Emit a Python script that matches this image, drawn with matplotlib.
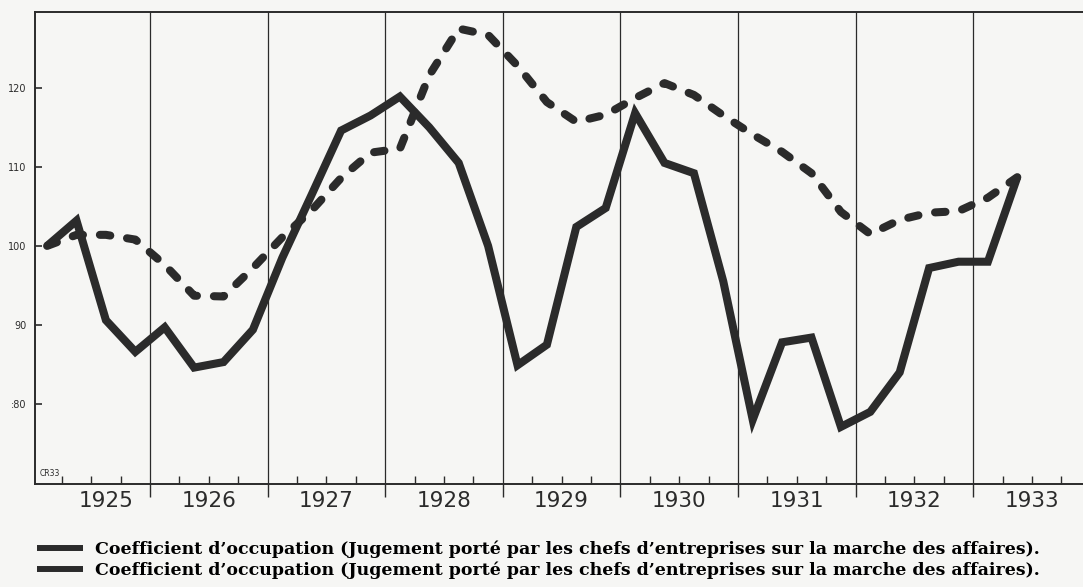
import matplotlib
matplotlib.use("Agg")
import matplotlib.pyplot as plt
from matplotlib.lines import Line2D
from matplotlib.transforms import blended_transform_factory
import numpy as np

# ---- data (quarterly, 1925 Q1 .. 1933 Q2) ----
start_year = 1925
solid_values = [100.0, 103.2, 90.6, 86.6, 89.7, 84.6, 85.3, 89.4,
                98.5, 106.5, 114.6, 116.5, 118.9, 115.0, 110.5, 100.0,
                84.9, 87.5, 102.4, 104.8, 116.8, 110.5, 109.2, 95.5,
                78.0, 87.8, 88.4, 77.1, 79.0, 84.0, 97.2, 98.0,
                98.0, 108.7]
dashed_values = [100.0, 101.4, 101.4, 100.8, 97.6, 93.7, 93.6, 97.2,
                 101.1, 104.5, 108.6, 111.8, 112.3, 121.6, 127.5, 126.7,
                 122.8, 118.2, 115.7, 116.6, 118.7, 120.6, 119.1, 116.5,
                 114.1, 111.9, 109.2, 104.3, 101.5, 103.3, 104.2, 104.4,
                 106.1, 108.7]
years = [1925, 1926, 1927, 1928, 1929, 1930, 1931, 1932, 1933]
y_ticks = [80, 90, 100, 110, 120]
y_ticklabels = [":80", "90", "100", "110", "120"]
legend_labels = [
    "Coefficient d\u2019occupation (Jugement port\u00e9 par les chefs d\u2019entreprises sur la marche des affaires).",
    "Coefficient d\u2019occupation (Jugement port\u00e9 par les chefs d\u2019entreprises sur la marche des affaires).",
]

ink = "#2b2b2b"
paper = "#f6f6f4"

W, H = 1083, 587
fig = plt.figure(figsize=(W / 100, H / 100), dpi=100, facecolor=paper)
ax = fig.add_axes([35 / W, 1 - 484 / H, (W - 35) / W, (484 - 12) / H])
ax.set_facecolor(paper)

xq = start_year + 0.125 + 0.25 * np.arange(len(solid_values))

ax.plot(xq, dashed_values, color=ink, lw=5.8, dashes=(1.3, 2.1),
        dash_capstyle="round", solid_joinstyle="round", zorder=3)
ax.plot(xq, solid_values, color=ink, lw=5.8, solid_joinstyle="miter",
        solid_capstyle="butt", zorder=4)

ax.set_xlim(1925.022, 1925 + (W - 32.4) / 117.6)
ax.set_ylim(69.87, 129.6)

# year boundaries as grid + outward major ticks
ax.set_xticks(years[1:])
ax.set_xticklabels([])
ax.set_xticks([y + f for y in years for f in (0.25, 0.5, 0.75)], minor=True)
ax.tick_params(axis="x", which="major", direction="out", length=9.5,
               width=1.0, color=ink)
ax.tick_params(axis="x", which="minor", direction="in", length=6,
               width=1.0, color=ink)
ax.grid(axis="x", which="major", color=ink, lw=0.9)

ax.set_yticks(y_ticks)
ax.set_yticklabels(y_ticklabels, fontsize=7, color=ink)
ax.tick_params(axis="y", direction="in", length=5, width=1.2, color=ink, pad=6)

for s in ("left", "top", "bottom"):
    ax.spines[s].set_color(ink)
    ax.spines[s].set_linewidth(1.4)
ax.spines["right"].set_visible(False)

tr = blended_transform_factory(ax.transData, ax.transAxes)
for yr in years:
    xc = yr + (0.63 if yr == 1925 else 0.5)
    ax.text(xc, -0.037, str(yr), transform=tr, ha="center", va="center",
            fontsize=15.5, color=ink, family="DejaVu Sans")

ax.text(0.004, 0.012, "CR33", transform=ax.transAxes, fontsize=5.5,
        color=ink, ha="left", va="bottom")

handles = [Line2D([0], [0], color=ink, lw=4.3, solid_capstyle="butt"),
           Line2D([0], [0], color=ink, lw=4.3, solid_capstyle="butt")]
fig.legend(handles, legend_labels, loc="upper left",
           bbox_to_anchor=(37 / W, 1 - 541 / H), frameon=False,
           handlelength=2.65, handletextpad=0.7, labelspacing=0.15,
           borderpad=0, borderaxespad=0,
           prop={"family": "DejaVu Serif", "weight": "bold", "size": 12.5})

fig.savefig("out.png", dpi=100, facecolor=paper)
